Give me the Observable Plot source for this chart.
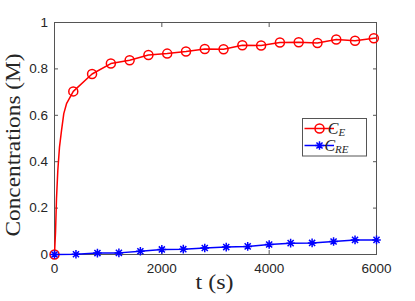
<!DOCTYPE html>
<html><head><meta charset="utf-8">
<script src="https://cdn.jsdelivr.net/npm/d3@7"></script>
<script src="https://cdn.jsdelivr.net/npm/@observablehq/plot@0.6"></script>
<style>
body{margin:0;background:#fff;}
#chart{position:relative;width:415px;height:301px;}
</style></head><body><div id="chart"></div>
<script>
// ---- data ----
const xTicks = [0, 2000, 4000, 6000];
const yTicks = [0, 0.2, 0.4, 0.6, 0.8, 1];

// C_E markers (every 350 s)
const ceMarkT = [0, 350, 700, 1050, 1400, 1750, 2100, 2450, 2800, 3150, 3500, 3850, 4200, 4550, 4900, 5250, 5600, 5950];
const ceMarkV = [0, 0.703, 0.778, 0.823, 0.837, 0.860, 0.866, 0.875, 0.886, 0.885, 0.902, 0.901, 0.914, 0.915, 0.912, 0.927, 0.921, 0.932];
// extra C_E line samples (steep early rise and end of run)
const ceExtraT = [19, 37, 62, 93, 131, 173, 224, 6000];
const ceExtraV = [0.096, 0.240, 0.363, 0.463, 0.535, 0.607, 0.650, 0.933];

// C_RE markers (every 400 s)
const creT = [0, 400, 800, 1200, 1600, 2000, 2400, 2800, 3200, 3600, 4000, 4400, 4800, 5200, 5600, 6000];
const creV = [0, 0.001, 0.006, 0.007, 0.014, 0.022, 0.023, 0.028, 0.032, 0.035, 0.043, 0.049, 0.050, 0.056, 0.063, 0.063];

const xLabel = "t (s)";
const yLabel = "Concentrations (M)";

// ---- build tables ----
const ceMarks = ceMarkT.map((t, i) => ({t, v: ceMarkV[i]}));
const ceLine = ceMarks.concat(ceExtraT.map((t, i) => ({t, v: ceExtraV[i]}))).sort((a, b) => a.t - b.t);
const cre = creT.map((t, i) => ({t, v: creV[i]}));

const asterisk = {
  draw(ctx, size) {
    const r = Math.sqrt(size / Math.PI), d = r * Math.SQRT1_2;
    ctx.moveTo(-r, 0); ctx.lineTo(r, 0);
    ctx.moveTo(0, -r); ctx.lineTo(0, r);
    ctx.moveTo(-d, -d); ctx.lineTo(d, d);
    ctx.moveTo(-d, d); ctx.lineTo(d, -d);
  }
};

const fmt = d => String(d);
const axisColor = "#555555";

const plot = Plot.plot({
  width: 415, height: 301,
  marginLeft: 54, marginRight: 39, marginTop: 22, marginBottom: 47,
  x: {domain: [0, 6000]},
  y: {domain: [0, 1]},
  style: {fontFamily: "Liberation Sans, Arial, sans-serif", fontSize: "13.5px", color: "#262626", background: "white", overflow: "visible"},
  marks: [
    Plot.frame({stroke: axisColor}),
    Plot.axisX(xTicks, {anchor: "bottom", tickSize: -4, tickPadding: 13, tickFormat: fmt, label: null, stroke: axisColor}),
    Plot.axisX(xTicks, {anchor: "top", tickSize: -4, tickFormat: () => "", label: null, stroke: axisColor}),
    Plot.axisY(yTicks, {anchor: "left", tickSize: -4, tickPadding: 10.5, tickFormat: fmt, label: null, stroke: axisColor}),
    Plot.axisY(yTicks, {anchor: "right", tickSize: -4, tickFormat: () => "", label: null, stroke: axisColor}),
    Plot.line(ceLine, {x: "t", y: "v", stroke: "#ff0000", strokeWidth: 1.5}),
    Plot.dot(ceMarks, {x: "t", y: "v", r: 4.5, stroke: "#ff0000", fill: "none", strokeWidth: 1.5}),
    Plot.line(cre, {x: "t", y: "v", stroke: "#0000ff", strokeWidth: 1.5}),
    Plot.dot(cre, {x: "t", y: "v", r: 4.3, symbol: asterisk, stroke: "#0000ff", fill: "none", strokeWidth: 1.5})
  ]
});

document.getElementById("chart").appendChild(plot);

// axis titles
const svg = d3.select(plot);
svg.append("text")
  .attr("transform", "translate(19.5,145) rotate(-90)")
  .attr("text-anchor", "middle")
  .attr("font-family", "Liberation Serif, serif")
  .attr("font-size", 21)
  .attr("fill", "#262626")
  .attr("textLength", 183).attr("lengthAdjust", "spacingAndGlyphs")
  .text(yLabel);
svg.append("text")
  .attr("x", 214.5).attr("y", 289)
  .attr("text-anchor", "middle")
  .attr("font-family", "Liberation Serif, serif")
  .attr("font-size", 22)
  .attr("fill", "#262626")
  .attr("textLength", 38).attr("lengthAdjust", "spacingAndGlyphs")
  .text(xLabel);

// legend
const lg = svg.append("g");
lg.append("rect").attr("x", 302.5).attr("y", 118.5).attr("width", 64).attr("height", 37.5)
  .attr("fill", "white").attr("stroke", axisColor).attr("stroke-width", 1);
const entries = [
  {color: "#ff0000", sym: "circle", main: "C", sub: "E", y: 128.5},
  {color: "#0000ff", sym: "asterisk", main: "C", sub: "RE", y: 145.5}
];
entries.forEach(e => {
  lg.append("line").attr("x1", 304.5).attr("x2", 334).attr("y1", e.y).attr("y2", e.y)
    .attr("stroke", e.color).attr("stroke-width", 1.5);
  if (e.sym === "circle") {
    lg.append("circle").attr("cx", 319.5).attr("cy", e.y).attr("r", 4.5)
      .attr("fill", "none").attr("stroke", e.color).attr("stroke-width", 1.5);
  } else {
    lg.append("path").attr("transform", `translate(319.5,${e.y})`)
      .attr("d", d3.symbol(asterisk, Math.PI * 4.3 * 4.3)())
      .attr("fill", "none").attr("stroke", e.color).attr("stroke-width", 1.5);
  }
  const t = lg.append("text").attr("x", 336.5).attr("y", e.y + 5)
    .attr("font-family", "Liberation Serif, serif").attr("font-style", "italic")
    .attr("font-size", 16).attr("fill", "#262626");
  t.append("tspan").text(e.main);
  t.append("tspan").attr("font-size", 11).attr("dy", 2.5).text(e.sub);
});
</script>
</body></html>
